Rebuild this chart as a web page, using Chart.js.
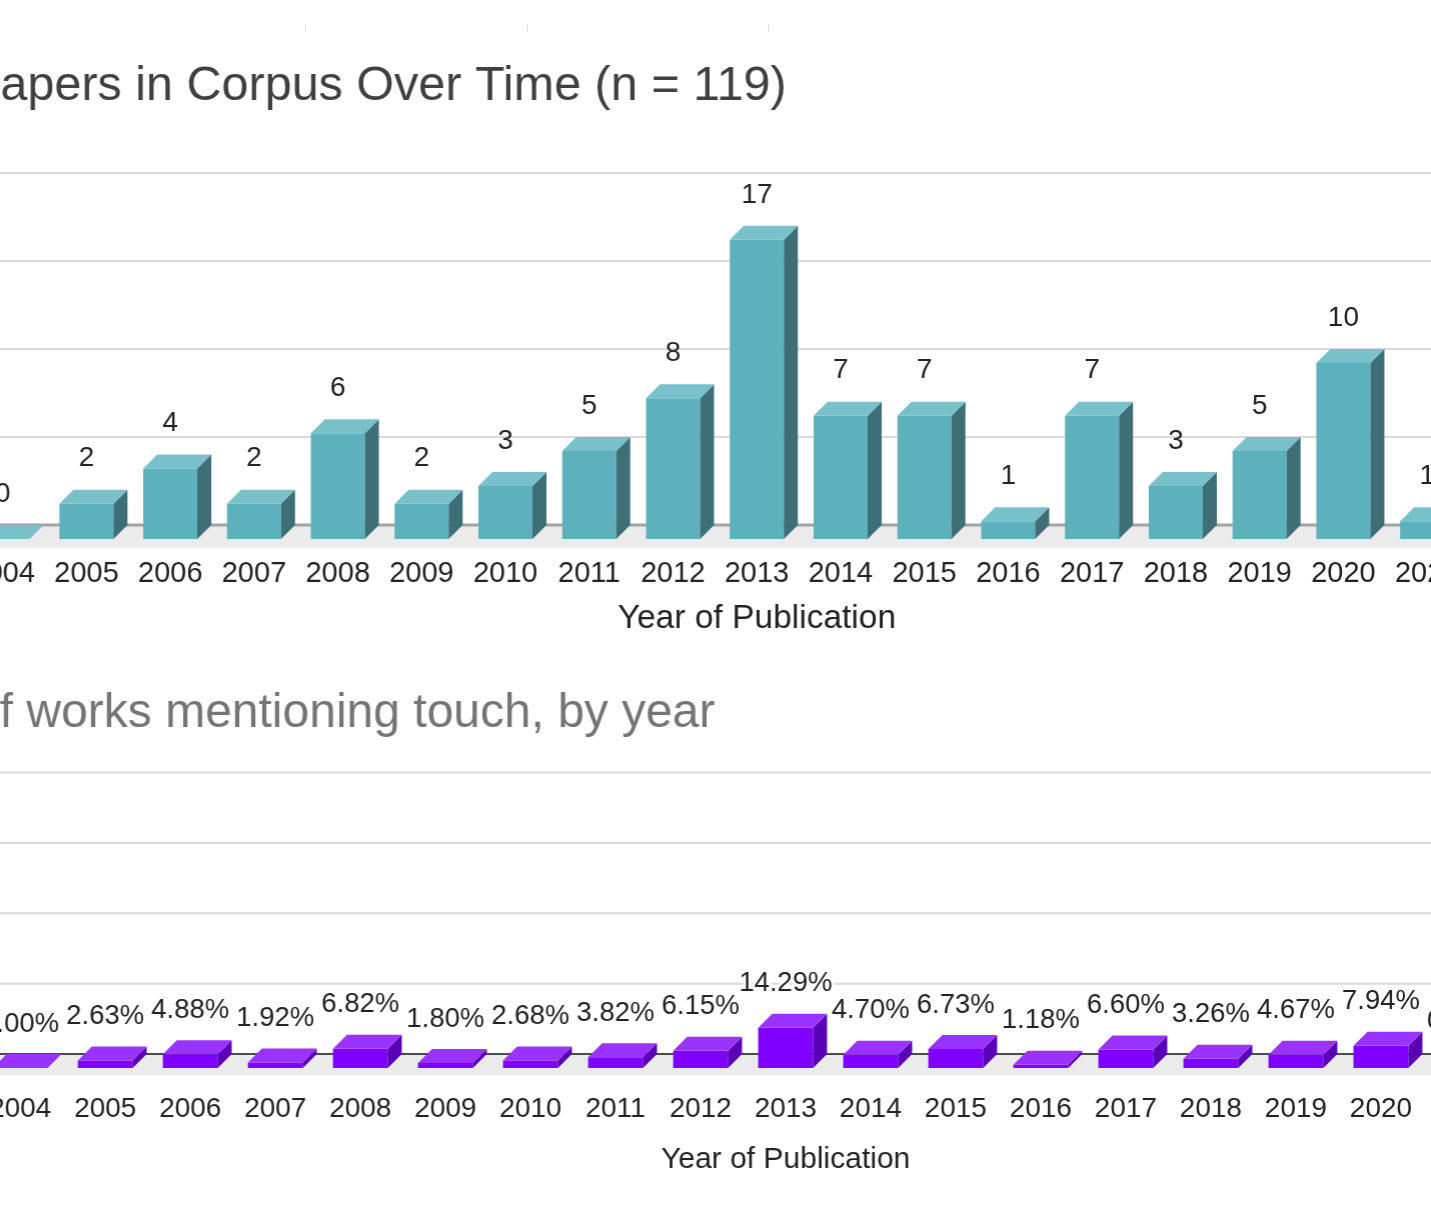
<!DOCTYPE html>
<html>
<head>
<meta charset="utf-8">
<script src="https://cdn.jsdelivr.net/npm/chart.js@4/dist/chart.umd.min.js"></script>
<style>
  html, body { margin: 0; padding: 0; background: #ffffff; overflow: hidden; width: 1431px; height: 1224px; }
  .wrap { position: absolute; }
  .mark { position: absolute; top: 24px; width: 1px; height: 8px; background: #e2e2e2; }
</style>
</head>
<body>
<div class="mark" style="left:305px"></div>
<div class="mark" style="left:527px"></div>
<div class="mark" style="left:768px"></div>
<div class="wrap" id="w1"><canvas id="c1"></canvas></div>
<div class="wrap" id="w2"><canvas id="c2"></canvas></div>
<script>
// ---- data ----
const years = ['2004','2005','2006','2007','2008','2009','2010','2011','2012','2013','2014','2015','2016','2017','2018','2019','2020','2021','2022'];
const paperCounts = [0, 2, 4, 2, 6, 2, 3, 5, 8, 17, 7, 7, 1, 7, 3, 5, 10, 1, null];
const touchPercents = [0.00, 2.63, 4.88, 1.92, 6.82, 1.80, 2.68, 3.82, 6.15, 14.29, 4.70, 6.73, 1.18, 6.60, 3.26, 4.67, 7.94, 0.83, null];
const countTickStep = 5;
const countMax = 20;
const percentTickStep = 25;
const percentMax = 100;
const topTitle = 'Number of Papers in Corpus Over Time (n = 119)';
const bottomTitle = 'Percentage of works mentioning touch, by year';
const xTitle = 'Year of Publication';

const FAMILY = '"Liberation Sans", Arial, Helvetica, sans-serif';

function textWidth(str, font) {
  const ctx = document.createElement('canvas').getContext('2d');
  ctx.font = font;
  return ctx.measureText(str).width;
}

const bars3d = {
  id: 'bars3d',
  beforeDatasetsDraw(chart, args, o) {
    const ctx = chart.ctx;
    const ys = chart.scales.y;
    const area = chart.chartArea;
    const W = chart.width;
    ctx.save();
    const y0 = ys.getPixelForValue(0);
    ctx.fillStyle = o.floorColor;
    ctx.fillRect(area.left, y0 - o.dy, W - area.left, o.dy + o.floorExtra);
    ctx.strokeStyle = o.gridColor;
    ctx.lineWidth = o.gridWidth;
    ys.ticks.forEach(t => {
      if (t.value === 0) return;
      const yy = ys.getPixelForValue(t.value) - o.dy;
      ctx.beginPath();
      ctx.moveTo(area.left, yy);
      ctx.lineTo(W, yy);
      ctx.stroke();
    });
    ctx.strokeStyle = o.baseColor;
    ctx.lineWidth = o.baseWidth;
    ctx.beginPath();
    ctx.moveTo(area.left, y0 - o.dy);
    ctx.lineTo(W, y0 - o.dy);
    ctx.stroke();
    ctx.restore();
  },
  afterDatasetsDraw(chart, args, o) {
    const ctx = chart.ctx;
    const meta = chart.getDatasetMeta(0);
    const vals = chart.data.datasets[0].data;
    ctx.save();
    meta.data.forEach((bar, i) => {
      if (vals[i] === null || vals[i] === undefined) return;
      const p = bar.getProps(['x', 'y', 'base', 'width'], true);
      const l = p.x - p.width / 2, r = p.x + p.width / 2;
      const top = Math.min(p.y, p.base), base = Math.max(p.y, p.base);
      ctx.fillStyle = o.sideColor;
      ctx.beginPath();
      ctx.moveTo(r, top);
      ctx.lineTo(r + o.dx, top - o.dy);
      ctx.lineTo(r + o.dx, base - o.dy);
      ctx.lineTo(r, base);
      ctx.closePath();
      ctx.fill();
      ctx.fillStyle = o.topColor;
      ctx.beginPath();
      ctx.moveTo(l, top);
      ctx.lineTo(l + o.dx, top - o.dy);
      ctx.lineTo(r + o.dx, top - o.dy);
      ctx.lineTo(r, top);
      ctx.closePath();
      ctx.fill();
    });
    ctx.font = o.labelFont;
    ctx.textAlign = 'center';
    ctx.textBaseline = 'middle';
    meta.data.forEach((bar, i) => {
      if (vals[i] === null || vals[i] === undefined) return;
      const p = bar.getProps(['x', 'y'], true);
      const txt = o.format(vals[i]);
      const ty = p.y - o.labelOffset;
      if (o.halo) {
        ctx.strokeStyle = '#ffffff';
        ctx.lineWidth = 5;
        ctx.lineJoin = 'round';
        ctx.strokeText(txt, p.x, ty);
      }
      ctx.fillStyle = o.labelColor;
      ctx.fillText(txt, p.x, ty);
    });
    ctx.restore();
  }
};

function makeChart(cfg) {
  const prefix = cfg.title.slice(0, cfg.title.indexOf(cfg.visibleStart));
  const P = textWidth(prefix, cfg.titleSize + 'px ' + FAMILY);
  const wrap = document.getElementById(cfg.wrapId);
  wrap.style.left = (-P) + 'px';
  wrap.style.top = cfg.top + 'px';
  wrap.style.width = (P + cfg.areaRight) + 'px';
  wrap.style.height = cfg.height + 'px';
  const yWidth = P + cfg.areaLeft;
  return new Chart(document.getElementById(cfg.canvasId), {
    type: 'bar',
    data: {
      labels: years,
      datasets: [{
        data: cfg.values,
        backgroundColor: cfg.front,
        borderWidth: 0,
        barPercentage: cfg.barPct,
        categoryPercentage: 1.0
      }]
    },
    options: {
      responsive: true,
      maintainAspectRatio: false,
      animation: false,
      layout: { padding: 0 },
      plugins: {
        legend: { display: false },
        tooltip: { enabled: false },
        title: {
          display: true,
          text: cfg.title,
          align: 'start',
          color: cfg.titleColor,
          font: { family: FAMILY, size: cfg.titleSize, weight: 'normal' },
          padding: cfg.titlePad
        },
        bars3d: cfg.d3
      },
      scales: {
        x: {
          grid: { display: false, drawTicks: false },
          border: { display: false },
          ticks: {
            color: '#222222',
            font: { family: FAMILY, size: cfg.tickSize },
            padding: cfg.tickPad,
            maxRotation: 0,
            autoSkip: false
          },
          title: {
            display: true,
            text: xTitle,
            color: '#222222',
            font: { family: FAMILY, size: cfg.xTitleSize },
            padding: cfg.xTitlePad
          },
          afterFit(scale) { scale.paddingLeft = 0; scale.paddingRight = 0; }
        },
        y: {
          min: 0,
          max: cfg.yMax,
          ticks: { display: false, stepSize: cfg.yStep },
          grid: { display: false, drawTicks: false },
          border: { display: false },
          afterFit(scale) { scale.width = yWidth; }
        }
      }
    },
    plugins: [bars3d]
  });
}

makeChart({
  wrapId: 'w1', canvasId: 'c1', top: 0, height: 643,
  title: topTitle, visibleStart: 'apers', titleColor: '#404040', titleSize: 48.5,
  titlePad: { top: 57.4, bottom: 71.4 },
  areaLeft: -39.6, areaRight: 1551.6,
  values: paperCounts, front: '#5cb1bd', barPct: 0.645,
  yMax: countMax, yStep: countTickStep,
  tickSize: 29, tickPad: 17.6, xTitleSize: 33.5, xTitlePad: { top: -10.1, bottom: 4 },
  d3: {
    dx: 14, dy: 14, topColor: '#78c1cb', sideColor: '#3e6f77',
    gridColor: '#dadada', gridWidth: 2, floorColor: '#ebebeb', floorExtra: 9,
    baseColor: '#a3a3a3', baseWidth: 3,
    labelFont: '28px ' + FAMILY, labelColor: '#222222', labelOffset: 45,
    format: v => String(v), halo: false
  }
});

makeChart({
  wrapId: 'w2', canvasId: 'c2', top: 643, height: 539,
  title: bottomTitle, visibleStart: 'f works', titleColor: '#757575', titleSize: 48,
  titlePad: { top: 42, bottom: 43.9 },
  areaLeft: -22, areaRight: 1593,
  values: touchPercents, front: '#7f00ff', barPct: 0.645,
  yMax: percentMax, yStep: percentTickStep,
  tickSize: 28, tickPad: 24.5, xTitleSize: 30, xTitlePad: { top: -8.6, bottom: 4 },
  d3: {
    dx: 14, dy: 14, topColor: '#9a33ff', sideColor: '#5a00b5',
    gridColor: '#dadada', gridWidth: 2, floorColor: '#ebebeb', floorExtra: 7,
    baseColor: '#4a4a4a', baseWidth: 2,
    labelFont: '27.5px ' + FAMILY, labelColor: '#222222', labelOffset: 44,
    format: v => v.toFixed(2) + '%', halo: true
  }
});
</script>
</body>
</html>
